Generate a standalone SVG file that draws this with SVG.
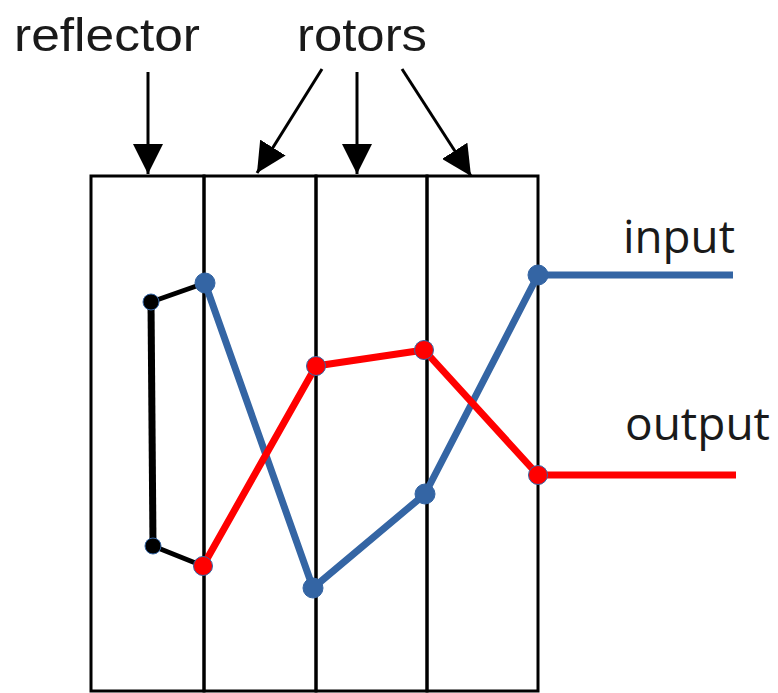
<svg xmlns="http://www.w3.org/2000/svg" width="778" height="693" viewBox="0 0 778 693">
  <style>
    .frame { fill: none; stroke: #000; stroke-width: 3; }
    .label { font-family: "Liberation Sans", Arial, sans-serif; font-size: 46px; fill: #1a1a1a; }
    .io { font-family: "Open Sans", "Liberation Sans", sans-serif; font-size: 46px; fill: #1a1a1a; }
    .ptr { stroke: #000; stroke-width: 3; fill: none; }
    .wire { fill: none; stroke-width: 7; stroke-linejoin: round; stroke-linecap: butt; }
    .blue { stroke: #3465a4; }
    .red { stroke: #ff0000; }
    .blk { stroke: #000; }
    .dot-blue { fill: #3465a4; stroke: #3465a4; stroke-width: 1; }
    .dot-red { fill: #ff0000; stroke: #3465a4; stroke-width: 1; }
    .dot-blk { fill: #000; stroke: #3465a4; stroke-width: 1; }
  </style>
  <defs>
    <marker id="head" markerUnits="userSpaceOnUse" markerWidth="30" markerHeight="30" refX="30" refY="15" orient="auto">
      <path d="M0,0 L30,15 L0,30 Z" fill="#000"/>
    </marker>
  </defs>
  <rect width="778" height="693" fill="#fff"/>

  <!-- machine slots: reflector + three rotors -->
  <g id="reflector">
    <rect class="frame" x="91" y="176" width="113" height="515"/>
  </g>
  <g id="rotor-1">
    <rect class="frame" x="204" y="176" width="112" height="515"/>
  </g>
  <g id="rotor-2">
    <rect class="frame" x="316" y="176" width="111" height="515"/>
  </g>
  <g id="rotor-3">
    <rect class="frame" x="427" y="176" width="111" height="515"/>
  </g>

  <!-- labels -->
  <g id="label-reflector">
    <text class="label" x="14" y="51" textLength="186" lengthAdjust="spacingAndGlyphs">reflector</text>
  </g>
  <g id="label-rotors">
    <text class="label" x="297" y="51" textLength="130" lengthAdjust="spacingAndGlyphs">rotors</text>
  </g>
  <g id="label-input">
    <text class="io" x="623" y="253" textLength="112" lengthAdjust="spacingAndGlyphs">input</text>
  </g>
  <g id="label-output">
    <text class="io" x="625" y="440" textLength="145" lengthAdjust="spacingAndGlyphs">output</text>
  </g>

  <!-- connectors -->
  <g id="connectors">
    <line class="ptr" x1="148" y1="72" x2="148" y2="174" marker-end="url(#head)"/>
    <line class="ptr" x1="322" y1="69" x2="257" y2="173" marker-end="url(#head)"/>
    <line class="ptr" x1="357" y1="72" x2="357" y2="174" marker-end="url(#head)"/>
    <line class="ptr" x1="402" y1="69" x2="471" y2="176" marker-end="url(#head)"/>

    <polyline class="wire blk" points="205,283 151,302 153,546 203,566" style="stroke-width:5"/>
    <line class="wire blk" x1="151" y1="302" x2="153" y2="546"/>
    <polyline class="wire blue" points="733,275 538,275 425,494 313,588 205,283"/>
    <polyline class="wire red" points="736,475 538,475 424,350 316,366 203,566"/>

    <circle class="dot-blk" cx="151" cy="302" r="8"/>
    <circle class="dot-blk" cx="153" cy="546" r="8"/>
    <circle class="dot-blue" cx="205" cy="283" r="10"/>
    <circle class="dot-red" cx="203" cy="566" r="9.5"/>
    <circle class="dot-red" cx="316" cy="366" r="9.5"/>
    <circle class="dot-blue" cx="313" cy="588" r="10"/>
    <circle class="dot-red" cx="424" cy="350" r="9.5"/>
    <circle class="dot-blue" cx="425" cy="494" r="10"/>
    <circle class="dot-blue" cx="538" cy="275" r="10"/>
    <circle class="dot-red" cx="538" cy="475" r="9.5"/>
  </g>
</svg>
